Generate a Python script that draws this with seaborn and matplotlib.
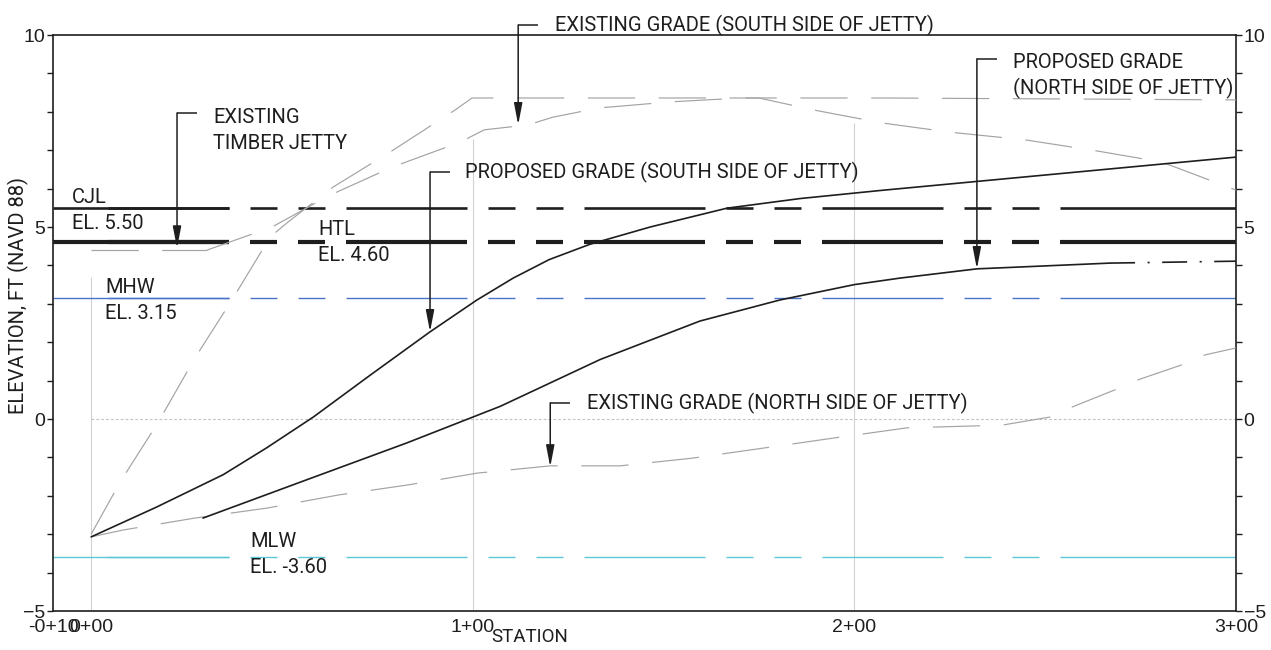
import seaborn as sns
from matplotlib import pyplot as plt
from matplotlib.ticker import MultipleLocator

# station (ft) vs elevation (ft, NAVD 88)
proposed_south_x = [0, 17.0, 34.6, 46.0, 58.2, 73.1, 88.8, 101.1, 110.6, 120.0, 130.7, 146.5,
                    166.6, 185.7, 206.7, 300]
proposed_south_y = [-3.07, -2.30, -1.45, -0.75, 0.05, 1.14, 2.27, 3.10, 3.67, 4.15, 4.55, 5.00,
                    5.49, 5.74, 5.95, 6.82]

proposed_north_x = [29.3, 58.2, 82.8, 107.2, 133.4, 159.5, 180.5, 200.0, 212.0, 232.1, 267.0]
proposed_north_y = [-2.58, -1.52, -0.62, 0.33, 1.55, 2.55, 3.10, 3.50, 3.67, 3.91, 4.06]
proposed_north_end_x = [267.0, 300.0]
proposed_north_end_y = [4.06, 4.11]

existing_south_x = [30.4, 47.4, 62.6, 78.9, 96.7, 103.0, 114.5, 121.0, 133.1, 152.0, 170.6, 175.0,
                    189.2, 207.2, 225.0, 244.7, 263.6, 280.6, 300.0]
existing_south_y = [4.40, 5.00, 5.83, 6.56, 7.21, 7.53, 7.66, 7.86, 8.10, 8.26, 8.36, 8.36,
                    8.05, 7.71, 7.47, 7.27, 6.98, 6.69, 5.96]

existing_upper_x = [0, 7.6, 17.6, 27.2, 36.9, 46.9, 51.6, 63.4, 79.1, 95.4, 99.8, 207.0, 300.0]
existing_upper_y = [-3.0, -1.64, -0.08, 1.59, 3.10, 4.74, 5.13, 6.04, 7.00, 8.05, 8.36, 8.36, 8.31]

existing_north_x = [0, 8.4, 27.2, 46.1, 64.7, 82.8, 101.1, 120.3, 138.6, 157.5, 176.0, 195.0,
                    213.8, 238.7, 251.2, 257.0, 268.3, 274.3, 285.8, 291.9, 300.0]
existing_north_y = [-3.07, -2.89, -2.58, -2.32, -1.98, -1.72, -1.41, -1.22, -1.22, -1.02, -0.76, -0.49,
                    -0.23, -0.16, 0.05, 0.31, 0.76, 1.02, 1.41, 1.67, 1.85]

jetty_x = [0, 30.4]
jetty_y = [4.40, 4.40]

# tidal datums
datum_names = ['CJL', 'HTL', 'MHW', 'MLW']
datum_elev = [5.50, 4.60, 3.15, -3.60]

station_ticks = [-10, 0, 100, 200, 300]
station_labels = ['-0+10', '0+00', '1+00', '2+00', '3+00']

grid_x = [0, 100, 200]
grid_top = [3.7, 7.3, 7.7]

# (text lines, text x, first baseline y, leader x, leader top, arrow tip)
callouts = [
    (['EXISTING', 'TIMBER JETTY'], 32.0, 7.71, 22.5, 7.97, 4.45),
    (['EXISTING GRADE (SOUTH SIDE OF JETTY)'], 121.6, 10.10, 111.9, 10.26, 7.66),
    (['PROPOSED GRADE (SOUTH SIDE OF JETTY)'], 98.0, 6.28, 88.8, 6.43, 2.27),
    (['EXISTING GRADE (NORTH SIDE OF JETTY)'], 129.9, 0.26, 120.3, 0.42, -1.25),
    (['PROPOSED GRADE', '(NORTH SIDE OF JETTY)'], 241.5, 9.13, 232.1, 9.38, 3.91),
]

W, H = 1271, 650
X0, X1, Y0, Y1 = 53, 1236, 35, 611          # axes box in pixels
INK = '#1e1e1e'
GREY = '#a3a3a3'
NARROW = ['Roboto', 'DejaVu Sans']
SANS = ['Liberation Sans', 'DejaVu Sans']
LINE_STEP = 26 / ((Y1 - Y0) / 15.0)         # text line step in elevation units

sns.set_style('white')
plt.rcParams['font.family'] = SANS
plt.rcParams['lines.scale_dashes'] = False

fig = plt.figure(figsize=(W / 100, H / 100), dpi=100)
ax = fig.add_axes([X0 / W, 1 - Y1 / H, (X1 - X0) / W, (Y1 - Y0) / H])
ax.set_xlim(-10, 300)
ax.set_ylim(-5, 10)
ft_per_px = 310.0 / (X1 - X0)


def datumLine(ax, elev, color, lw):
    # CAD style long-short-short line, solid run-in at both ends
    pat_px = [121, 21, 27, 21, 27, 21]
    period = sum(pat_px) * ft_per_px
    start = -10 + 55 * ft_per_px
    n = int((300 - start) // period)
    tail = start + n * period
    pat_pt = tuple(p * 0.72 for p in pat_px)
    sns.lineplot(x=[start, tail], y=[elev, elev], ax=ax, color=color, lw=lw,
                 linestyle=(0, pat_pt), estimator=None, sort=False, zorder=2)
    for a, b in [(-10, start + pat_px[0] * ft_per_px), (tail, 300)]:
        sns.lineplot(x=[a, b], y=[elev, elev], ax=ax, color=color, lw=lw,
                     estimator=None, sort=False, zorder=2, solid_capstyle='butt')


# light construction lines
ax.vlines(grid_x, -5, grid_top, color='#d2d2d2', lw=0.8, zorder=1)
ax.hlines(0, 0, 300, color='#c4c4c4', lw=0.8, linestyle=(0, (2, 1.5)), zorder=1)

datum_color = [INK, INK, '#4a72c8', '#5cc7d6']
datum_lw = [1.9, 3.0, 1.0, 1.0]
for elev, c, lw in zip(datum_elev, datum_color, datum_lw):
    datumLine(ax, elev, c, lw)

grey_dash = (0, (34, 17))
for xs, ys in [(existing_upper_x, existing_upper_y), (existing_south_x, existing_south_y),
               (existing_north_x, existing_north_y), (jetty_x, jetty_y)]:
    sns.lineplot(x=xs, y=ys, ax=ax, color=GREY, lw=0.85, linestyle=grey_dash,
                 estimator=None, sort=False, zorder=3)

sns.lineplot(x=proposed_south_x, y=proposed_south_y, ax=ax, color=INK, lw=1.2,
             estimator=None, sort=False, zorder=4)
sns.lineplot(x=proposed_north_x, y=proposed_north_y, ax=ax, color=INK, lw=1.2,
             estimator=None, sort=False, zorder=4)
sns.lineplot(x=proposed_north_end_x, y=proposed_north_end_y, ax=ax, color=INK, lw=1.2,
             linestyle=(0, (18, 9, 1.5, 9)), estimator=None, sort=False, zorder=4)

# datum labels
label_pos = {'CJL': (-5.0, 5.63), 'HTL': (59.5, 4.79), 'MHW': (3.7, 3.28), 'MLW': (41.7, -3.33)}
for name, elev in zip(datum_names, datum_elev):
    tx, ty = label_pos[name]
    ax.text(tx, ty, name, family=NARROW, fontsize=14.5, color=INK, va='baseline')
    ax.text(tx, ty - LINE_STEP, 'EL. %.2f' % elev, family=NARROW, fontsize=14.5,
            color=INK, va='baseline')

# call-outs with leader arrows
for lines, tx, ty, lx, ltop, tip in callouts:
    for i, line in enumerate(lines):
        ax.text(tx, ty - i * LINE_STEP, line, family=NARROW, fontsize=14.5, color=INK,
                va='baseline', clip_on=False)
    ax.plot([lx, lx + 5.2], [ltop, ltop], color=INK, lw=1.1, clip_on=False,
            solid_capstyle='butt')
    ax.annotate('', xy=(lx, tip), xytext=(lx, ltop), annotation_clip=False,
                arrowprops=dict(arrowstyle='-|>,head_length=1.3,head_width=0.25',
                                color=INK, lw=1.1, shrinkA=0, shrinkB=0))

# axes
for s in ax.spines.values():
    s.set_color(INK)
    s.set_linewidth(1.2)
ax.set_xticks(station_ticks)
ax.set_xticklabels(station_labels)
ax.xaxis.set_minor_locator(MultipleLocator(25))
ax.yaxis.set_major_locator(MultipleLocator(5))
ax.yaxis.set_minor_locator(MultipleLocator(1))
ax.tick_params(axis='x', which='both', direction='inout', length=8, width=1, color=INK,
               labelsize=14, pad=2, labelcolor=INK)
ax.tick_params(axis='y', which='both', direction='out', length=4, width=1, color=INK,
               left=True, right=True, labelleft=True, labelright=True,
               labelsize=14, pad=1.5, labelcolor=INK)
ax.set_xlabel('')
ax.set_ylabel('')

fig.text(18 / W, 1 - 296 / H, 'ELEVATION, FT (NAVD 88)', rotation=90, ha='center', va='center',
         family=NARROW, fontsize=14.5, color=INK)
fig.text(530 / W, 1 - 637 / H, 'STATION', ha='center', va='center',
         family=NARROW, fontsize=13.5, color=INK)

fig.savefig('out.png', dpi=100)
plt.close(fig)
